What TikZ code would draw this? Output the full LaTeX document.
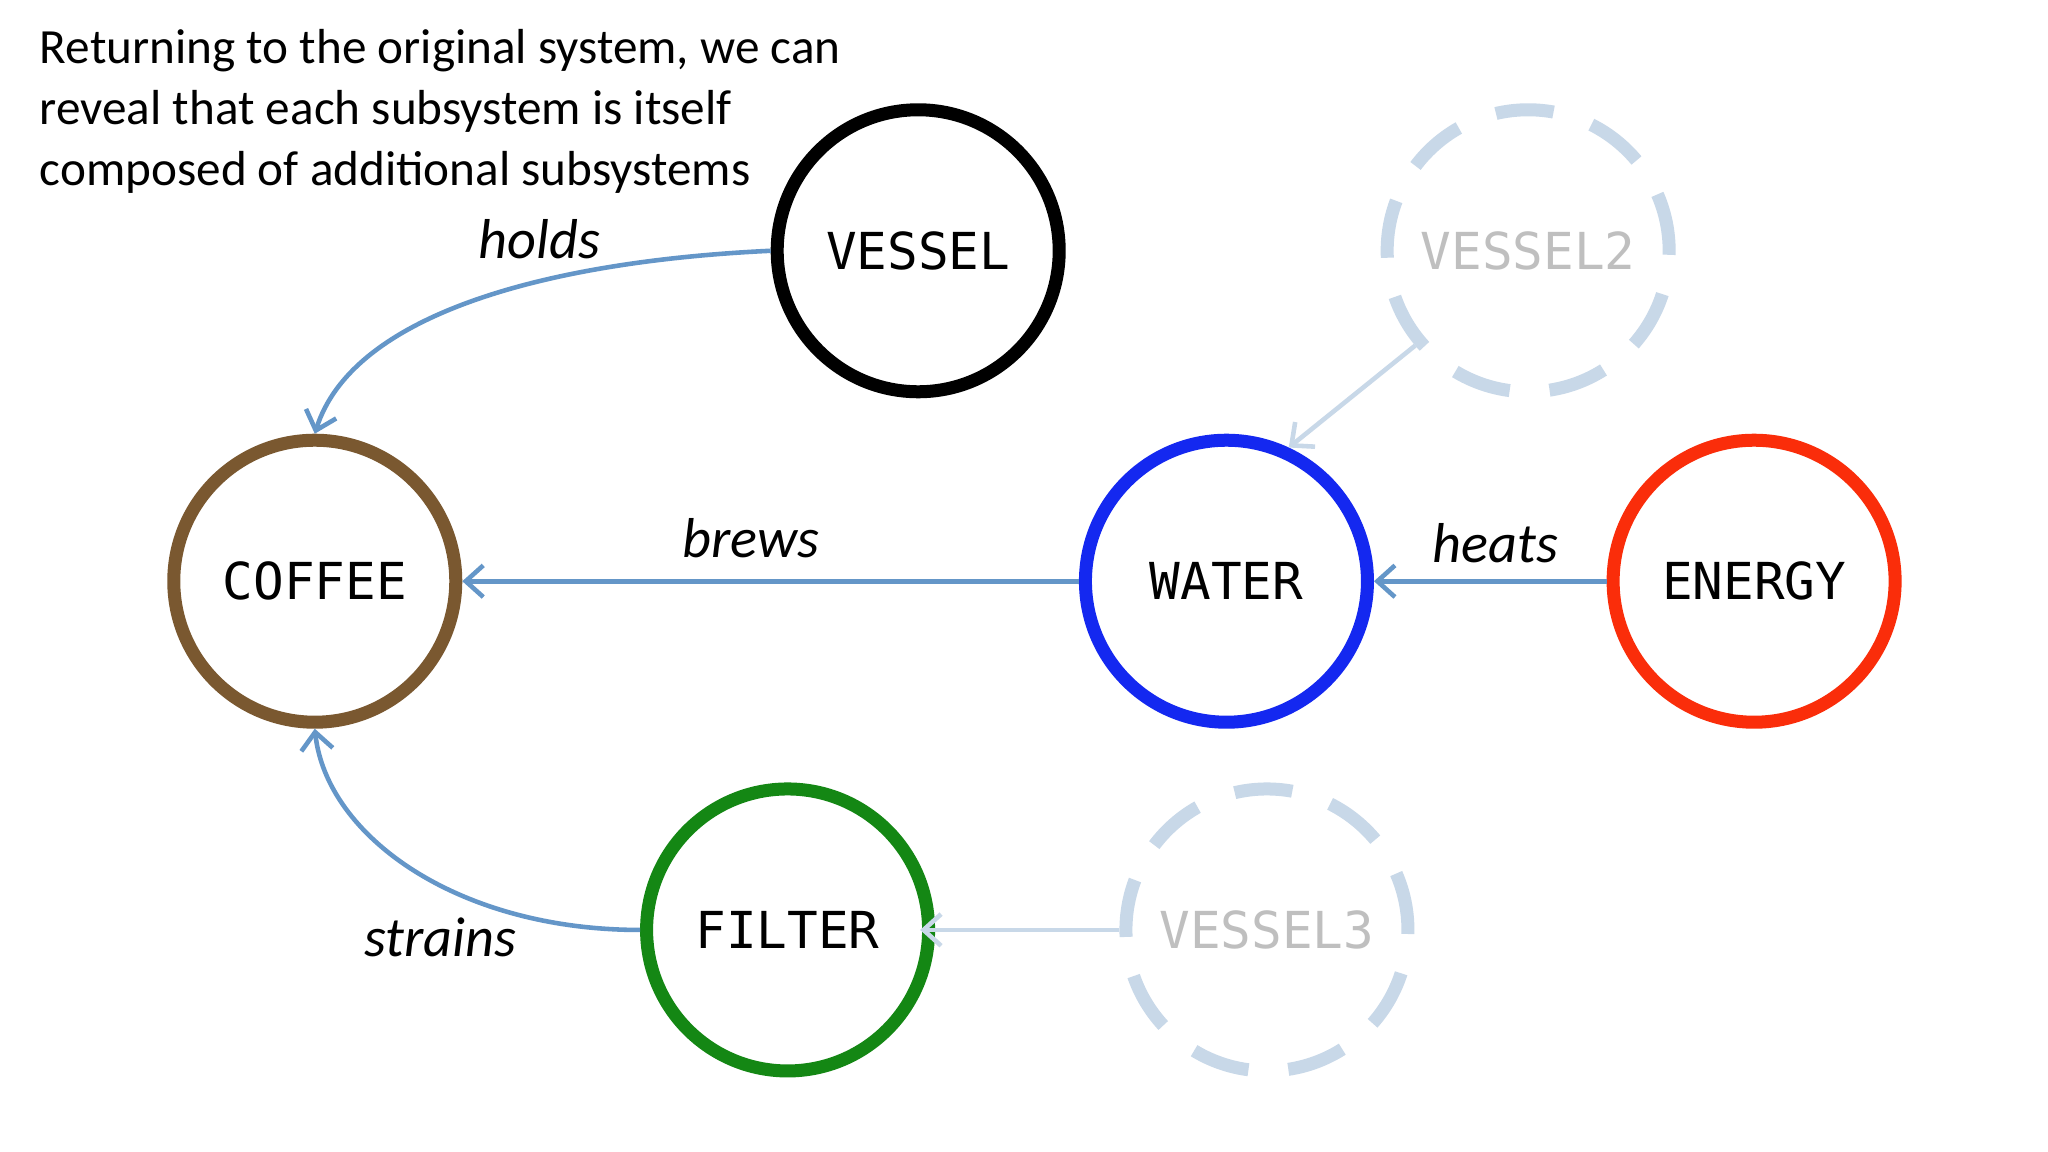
\documentclass[tikz,border=0pt]{standalone}
\usepackage{fontspec}
\setmainfont{Carlito}
\newfontfamily\monof{DejaVu Sans Mono}
\usetikzlibrary{arrows.meta}
\definecolor{arr}{RGB}{100,150,200}
\definecolor{ghost}{RGB}{200,216,232}
\definecolor{coffeec}{RGB}{122,88,48}
\begin{document}
\begin{tikzpicture}[x=0.013061cm,y=-0.013061cm,
  sys/.style={circle,minimum size=2.82cm,line width=3.7pt,font=\monof\fontsize{14.5}{16}\selectfont,inner sep=0pt},
  ghostc/.style={sys,draw=ghost,dash pattern=on 0.58cm off 0.4cm,text=black!25},
  conn/.style={draw=arr,line width=1.3pt,-{Straight Barb[length=5pt,width=9pt]}},
  gconn/.style={draw=ghost,line width=1.3pt,-{Straight Barb[length=5pt,width=9pt]}},
  lab/.style={font=\itshape\fontsize{16}{18}\selectfont}]
\useasboundingbox (0,0) rectangle (1568,882);
\fill[white] (0,0) rectangle (1568,882);
\node[anchor=north west,align=left,font=\fontsize{14}{17.4}\selectfont,inner sep=0pt] (t) at (30,22)
 {Returning to the original system, we can\\reveal that each subsystem is itself\\composed of additional subsystems};
\node[sys,draw=black] (vessel) at (703,192) {VESSEL};
\node[sys,draw=coffeec] (coffee) at (241,445) {COFFEE};
\node[sys,draw={rgb,255:red,20;green,40;blue,240}] (water) at (939,445) {WATER};
\node[sys,draw={rgb,255:red,250;green,45;blue,10}] (energy) at (1343,445) {ENERGY};
\node[sys,draw={rgb,255:red,20;green,135;blue,20}] (filter) at (603,712) {FILTER};
\node[ghostc] (v2) at (1170,192) {VESSEL2};
\node[ghostc] (v3) at (970,712) {VESSEL3};
\draw[conn] (vessel.west) .. controls (420,200) and (270,240) .. (coffee.north);
\draw[conn] (water.west) -- (coffee.east);
\draw[conn] (energy.west) -- (water.east);
\draw[conn] (filter.west) .. controls (350,712) and (250,640) .. (coffee.south);
\draw[gconn] (v2.-140) -- (water.65);
\draw[gconn] (v3.west) -- ([xshift=-0.15cm]filter.east);
\node[lab] (l1) at (413,183) {holds};
\node[lab] (l2) at (575,412) {brews};
\node[lab] (l3) at (1145,416) {heats};
\node[lab] (l4) at (337,718) {strains};
\end{tikzpicture}
\end{document}
